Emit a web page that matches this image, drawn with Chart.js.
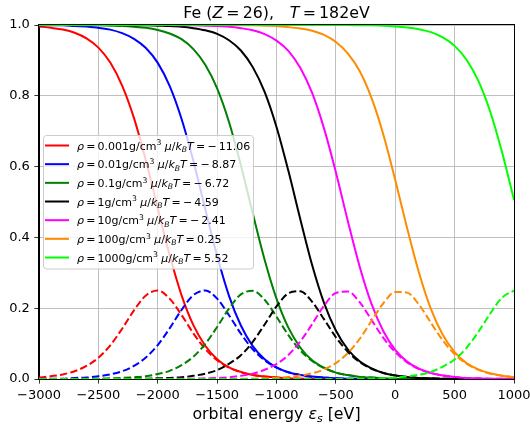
<!DOCTYPE html>
<html lang="en">
<head>
<meta charset="UTF-8">
<title>Fe (Z=26), T=182eV</title>
<script src="https://cdn.jsdelivr.net/npm/chart.js"></script>
<style>
  body { margin: 0; background: #fff; }
  #wrap { width: 530px; height: 430px; }
</style>
</head>
<body>
<div id="wrap"><canvas id="occChart" width="530" height="430"></canvas></div>
<script>
// orbital energy grid [eV]
const energies = [-3000,-2900,-2800,-2700,-2600,-2500,-2400,-2300,-2200,-2100,-2000,-1900,-1800,-1700,-1600,-1500,-1400,-1300,-1200,-1100,-1000,-900,-800,-700,-600,-500,-400,-300,-200,-100,0,100,200,300,400,500,600,700,800,900,1000];

// occupation (solid)
const occ_0001 = [0.996,0.992,0.987,0.978,0.962,0.936,0.894,0.829,0.737,0.617,0.482,0.350,0.237,0.152,0.094,0.056,0.033,0.020,0.011,0.007,0.004,0.002,0.001,0.001,0,0,0,0,0,0,0,0,0,0,0,0,0,0,0,0,0];
const occ_001 = [0.999,0.999,0.999,0.997,0.996,0.992,0.987,0.977,0.961,0.935,0.893,0.828,0.735,0.616,0.480,0.348,0.235,0.151,0.093,0.056,0.033,0.019,0.011,0.007,0.004,0.002,0.001,0.001,0,0,0,0,0,0,0,0,0,0,0,0,0];
const occ_01 = [1,1,1,1,0.999,0.999,0.998,0.997,0.995,0.992,0.986,0.976,0.960,0.932,0.888,0.821,0.726,0.604,0.468,0.337,0.227,0.145,0.089,0.053,0.032,0.018,0.011,0.006,0.004,0.002,0.001,0.001,0,0,0,0,0,0,0,0,0];
const occ_1 = [1,1,1,1,1,1,1,1,0.999,0.999,0.998,0.997,0.995,0.991,0.985,0.975,0.957,0.928,0.881,0.811,0.712,0.588,0.452,0.322,0.215,0.137,0.084,0.050,0.030,0.017,0.010,0.006,0.003,0.002,0.001,0.001,0,0,0,0,0];
const occ_10 = [1,1,1,1,1,1,1,1,1,1,1,1,0.999,0.999,0.998,0.997,0.995,0.991,0.985,0.974,0.956,0.927,0.879,0.808,0.708,0.584,0.447,0.318,0.212,0.135,0.082,0.049,0.029,0.017,0.010,0.006,0.003,0.002,0.001,0.001,0];
const occ_100 = [1,1,1,1,1,1,1,1,1,1,1,1,1,1,1,1,1,0.999,0.999,0.998,0.997,0.994,0.990,0.984,0.972,0.952,0.920,0.870,0.794,0.690,0.562,0.426,0.300,0.198,0.125,0.076,0.045,0.027,0.016,0.009,0.005];
const occ_1000 = [1,1,1,1,1,1,1,1,1,1,1,1,1,1,1,1,1,1,1,1,1,1,1,1,1,1,1,0.999,0.999,0.998,0.996,0.993,0.988,0.980,0.965,0.941,0.902,0.842,0.755,0.640,0.506];

// dashed bell curves
const bell_0001 = [0.004,0.008,0.013,0.022,0.037,0.060,0.095,0.142,0.194,0.236,0.250,0.227,0.181,0.129,0.085,0.053,0.032,0.019,0.011,0.007,0.004,0.002,0.001,0.001,0,0,0,0,0,0,0,0,0,0,0,0,0,0,0,0,0];
const bell_001 = [0,0.001,0.001,0.003,0.004,0.008,0.013,0.022,0.037,0.061,0.096,0.143,0.195,0.237,0.250,0.227,0.180,0.128,0.084,0.053,0.032,0.019,0.011,0.006,0.004,0.002,0.001,0.001,0,0,0,0,0,0,0,0,0,0,0,0,0];
const bell_01 = [0,0,0,0,0.001,0.001,0.002,0.003,0.005,0.008,0.014,0.023,0.039,0.063,0.099,0.147,0.199,0.239,0.249,0.224,0.176,0.124,0.081,0.051,0.031,0.018,0.011,0.006,0.004,0.002,0.001,0.001,0,0,0,0,0,0,0,0,0];
const bell_1 = [0,0,0,0,0,0,0,0,0.001,0.001,0.002,0.003,0.005,0.009,0.015,0.025,0.043,0.067,0.105,0.154,0.205,0.242,0.248,0.218,0.169,0.118,0.077,0.048,0.029,0.017,0.010,0.006,0.003,0.002,0.001,0.001,0,0,0,0,0];
const bell_10 = [0,0,0,0,0,0,0,0,0,0,0,0,0.001,0.001,0.002,0.003,0.005,0.009,0.015,0.026,0.042,0.068,0.106,0.155,0.207,0.243,0.247,0.217,0.167,0.116,0.076,0.047,0.028,0.017,0.010,0.006,0.003,0.002,0.001,0.001,0];
const bell_100 = [0,0,0,0,0,0,0,0,0,0,0,0,0,0,0,0,0,0.001,0.001,0.002,0.003,0.006,0.010,0.016,0.027,0.045,0.073,0.113,0.164,0.214,0.246,0.244,0.210,0.159,0.109,0.070,0.043,0.026,0.015,0.009,0.005];
const bell_1000 = [0,0,0,0,0,0,0,0,0,0,0,0,0,0,0,0,0,0,0,0,0,0,0,0,0,0,0,0.001,0.001,0.002,0.004,0.007,0.012,0.020,0.035,0.055,0.088,0.133,0.185,0.230,0.250];

const densities = ['0.001', '0.01', '0.1', '1', '10', '100', '1000'];
const muOverKT = ['-11.06', '-8.87', '-6.72', '-4.59', '-2.41', '0.25', '5.52'];
const occSeries = [occ_0001, occ_001, occ_01, occ_1, occ_10, occ_100, occ_1000];
const bellSeries = [bell_0001, bell_001, bell_01, bell_1, bell_10, bell_100, bell_1000];
const colors = ['#ff0000', '#0000ff', '#008000', '#000000', '#ff00ff', '#ff8c00', '#00ff00'];

const xTicks = [-3000, -2500, -2000, -1500, -1000, -500, 0, 500, 1000];
const yTicks = [0, 0.2, 0.4, 0.6, 0.8, 1.0];

const FONT = "'DejaVu Sans', sans-serif";
const MINUS = '\u2212';

function toPoints(ys) {
    return ys.map((y, i) => ({ x: energies[i], y: y }));
}

const datasets = [];
occSeries.forEach((ys, i) => {
    datasets.push({
        data: toPoints(ys), borderColor: colors[i], borderWidth: 2,
        cubicInterpolationMode: 'monotone', clip: 0
    });
    datasets.push({
        data: toPoints(bellSeries[i]), borderColor: colors[i], borderWidth: 2,
        borderDash: [7.4, 3.2], cubicInterpolationMode: 'monotone', clip: 0
    });
});
// later lines on top, like matplotlib
datasets.forEach((d, i) => { d.order = -i; });

// draws a list of text runs; numbers are gaps in em
function drawRuns(ctx, runs, x, y, size, draw) {
    let cx = x;
    for (const r of runs) {
        if (typeof r === 'number') { cx += r * size; continue; }
        const t = r[0], st = r[1];
        let fs = size, dy = 0;
        if (st.includes('^')) { fs = size * 0.7; dy = -size * 0.38; }
        if (st.includes('_')) { fs = size * 0.7; dy = size * 0.22; }
        ctx.font = (st.includes('i') ? 'italic ' : '') + fs + 'px ' + FONT;
        if (draw) ctx.fillText(t, cx, y + dy);
        cx += ctx.measureText(t).width;
    }
    return cx - x;
}

function drawCentered(ctx, runs, cx, y, size) {
    const w = drawRuns(ctx, runs, 0, 0, size, false);
    drawRuns(ctx, runs, cx - w / 2, y, size, true);
}

function legendRuns(i) {
    const v = muOverKT[i];
    const valRuns = v.startsWith('-') ? [[MINUS, 'n'], 0.2, [v.slice(1), 'n']] : [[v, 'n']];
    return [['\u03c1', 'i'], 0.2, ['=', 'n'], 0.2, [densities[i], 'n'], ['g/cm', 'n'], ['3', '^'], 0.3,
        ['\u03bc', 'i'], ['/', 'n'], ['k', 'i'], ['B', 'i_'], ['T', 'i'], 0.2, ['=', 'n'], 0.2].concat(valRuns);
}

const overlay = {
    id: 'overlay',
    afterDraw(chart) {
        const ctx = chart.ctx;
        const a = chart.chartArea;
        ctx.save();
        // axes frame
        ctx.strokeStyle = '#000';
        ctx.lineWidth = 1;
        ctx.strokeRect(a.left - 0.5, a.top - 0.5, a.right - a.left + 1, a.bottom - a.top + 1);

        // legend
        const lx = 43.5, ly = 135.5, lw = 210, lh = 133.5;
        ctx.beginPath();
        ctx.roundRect(lx, ly, lw, lh, 3);
        ctx.fillStyle = 'rgba(255,255,255,0.8)';
        ctx.fill();
        ctx.strokeStyle = '#cccccc';
        ctx.lineWidth = 1;
        ctx.stroke();
        ctx.textBaseline = 'alphabetic';
        ctx.textAlign = 'left';
        for (let i = 0; i < densities.length; i++) {
            const ry = 145.5 + i * 18.67;
            ctx.strokeStyle = colors[i];
            ctx.lineWidth = 2;
            ctx.beginPath();
            ctx.moveTo(45, ry);
            ctx.lineTo(69, ry);
            ctx.stroke();
            ctx.fillStyle = '#000';
            drawRuns(ctx, legendRuns(i), 77, ry + 4, 11, true);
        }

        // title
        const mid = (a.left + a.right) / 2;
        ctx.fillStyle = '#000';
        drawCentered(ctx, [['Fe (', 'n'], ['Z', 'i'], 0.2, ['=', 'n'], 0.2, ['26', 'n'], ['),', 'n'], 1.0,
            ['T', 'i'], 0.2, ['=', 'n'], 0.2, ['182', 'n'], ['eV', 'n']], mid, 17.5, 15.8);
        // x axis label
        drawCentered(ctx, [['orbital energy ', 'n'], ['\u03b5', 'i'], ['s', 'i_'], [' [eV]', 'n']], mid, 419, 15.8);
        ctx.restore();
    }
};

new Chart(document.getElementById('occChart'), {
    type: 'line',
    data: { datasets: datasets },
    options: {
        responsive: false,
        animation: false,
        layout: { padding: { top: 25, right: 16, bottom: 0, left: 0 } },
        elements: { point: { radius: 0 }, line: { fill: false } },
        plugins: { legend: { display: false }, title: { display: false }, tooltip: { enabled: false } },
        scales: {
            x: {
                type: 'linear', min: -3000, max: 1000,
                afterBuildTicks: s => { s.ticks = xTicks.map(v => ({ value: v })); },
                afterFit: s => { s.height = 51; s.paddingLeft = 0; s.paddingRight = 0; },
                grid: { color: '#b0b0b0', lineWidth: 0.8, tickColor: '#000', tickLength: 4.6 },
                border: { display: true, color: '#000', width: 1 },
                ticks: {
                    color: '#000', font: { family: FONT, size: 13 }, padding: 4,
                    maxRotation: 0, autoSkip: false,
                    callback: v => (v < 0 ? MINUS + Math.abs(v) : String(v))
                }
            },
            y: {
                min: 0, max: 1,
                afterBuildTicks: s => { s.ticks = yTicks.map(v => ({ value: v })); },
                afterFit: s => { s.width = 39; s.paddingTop = 0; s.paddingBottom = 0; },
                grid: { color: '#b0b0b0', lineWidth: 0.8, tickColor: '#000', tickLength: 4.6 },
                border: { display: true, color: '#000', width: 1 },
                ticks: {
                    color: '#000', font: { family: FONT, size: 13 }, padding: 4.6,
                    callback: v => v.toFixed(1)
                }
            }
        }
    },
    plugins: [overlay]
});
</script>
</body>
</html>
